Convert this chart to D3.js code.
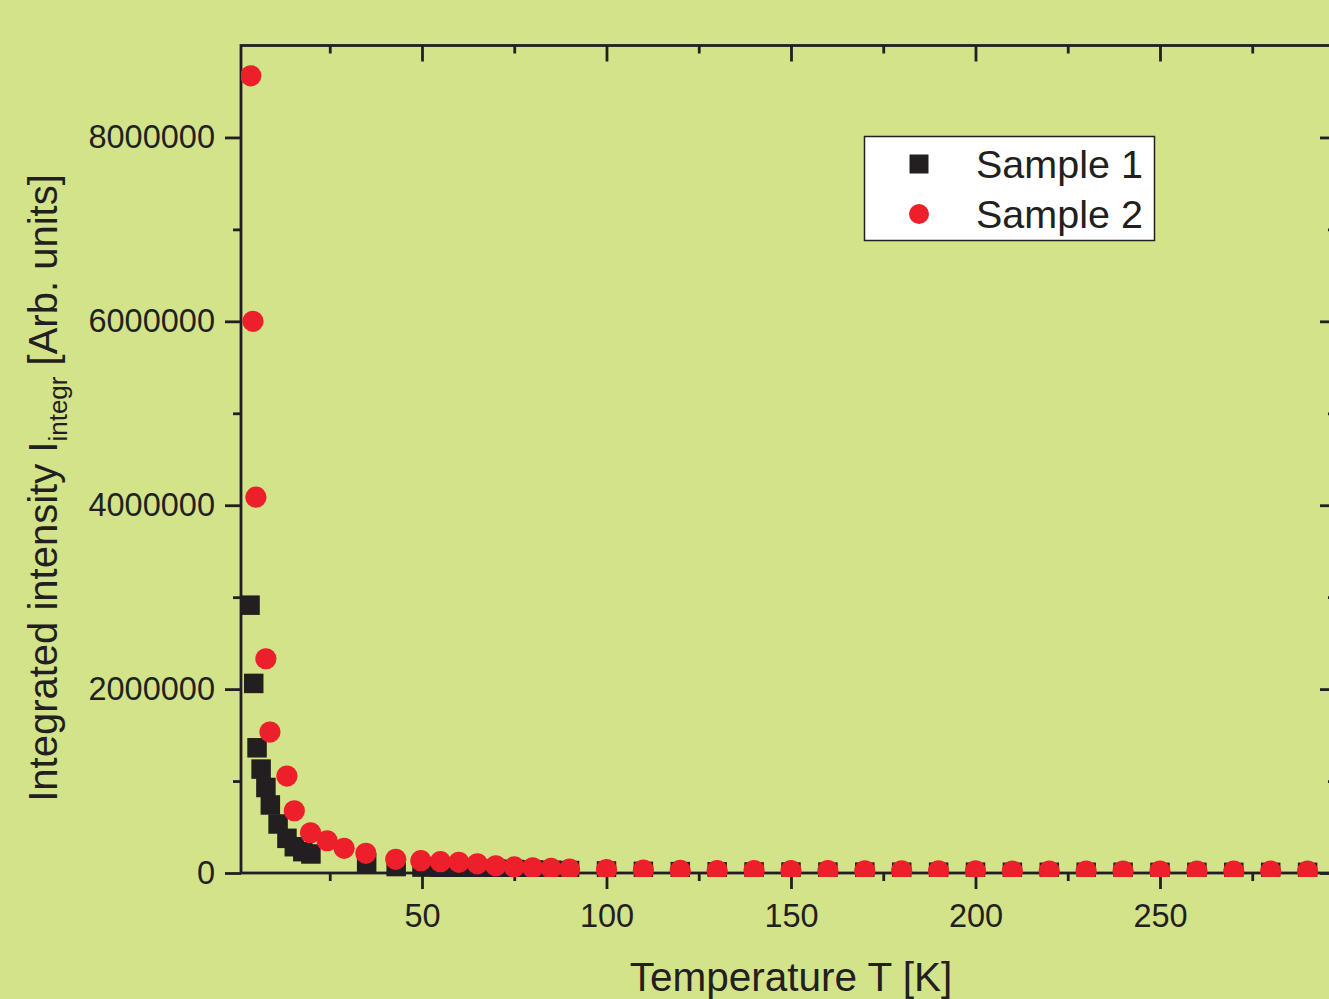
<!DOCTYPE html>
<html><head><meta charset="utf-8">
<script src="https://cdn.jsdelivr.net/npm/d3@7"></script>
<style>
html,body{margin:0;padding:0;background:#d3e38a;}
svg{display:block;font-family:"Liberation Sans",Arial,sans-serif;}
</style></head>
<body><svg id="c" width="1329" height="999"></svg>
<script>
// ---- data ----
const sample1T = [3.4, 4.4, 5.3, 6.4, 7.7, 8.9, 11, 13.4, 15.4, 17.7, 19.9, 35, 43, 50, 55, 60, 65, 70, 75, 80, 85, 90,
  100, 110, 120, 130, 140, 150, 160, 170, 180, 190, 200, 210, 220, 230, 240, 250, 260, 270, 280, 290];
const sample1V = [2913000, 2062000, 1362000, 1130000, 930000, 740000, 533000, 377000, 286000, 232000, 207000, 105000, 70000, 64000, 58000, 52000, 47000, 42000, 38000, 34000, 30000, 27000,
  22000, 18000, 15000, 13000, 12000, 11000, 10000, 10000, 9000, 9000, 9000, 8000, 8000, 8000, 8000, 7000, 7000, 7000, 7000, 7000];
const sample2T = [3.6, 4.2, 5.0, 7.7, 8.8, 13.4, 15.4, 19.8, 24.3, 28.9, 34.8, 42.9, 49.7, 55, 60, 65, 70, 75, 80, 85, 90,
  100, 110, 120, 130, 140, 150, 160, 170, 180, 190, 200, 210, 220, 230, 240, 250, 260, 270, 280, 290];
const sample2V = [8670000, 6000000, 4087000, 2330000, 1533000, 1054000, 677000, 438000, 351000, 268000, 214000, 149000, 134000, 123000, 116000, 100000, 78000, 66000, 57000, 50000, 42000,
  36000, 32000, 28000, 27000, 26000, 25000, 25000, 24000, 24000, 23000, 23000, 22000, 22000, 22000, 21000, 21000, 21000, 20000, 20000, 20000];
const xMajorTicks = [50, 100, 150, 200, 250];
const xMinorTicks = [25, 75, 125, 175, 225, 275];
const yMajorTicks = [0, 2000000, 4000000, 6000000, 8000000];
const yMinorTicks = [1000000, 3000000, 5000000, 7000000];
const seriesNames = ["Sample 1", "Sample 2"];
const xDomain = [0.95, 297.7];
const yDomain = [0, 9000000];

// ---- layout ----
const L = 241, R = 1336, T = 45.5, B = 873;
const svg = d3.select("#c");
const x = d3.scaleLinear().domain(xDomain).range([L, R]);
const y = d3.scaleLinear().domain(yDomain).range([B, T]);
const ink = "#231f20", red = "#ed1f2a";

function styleAxis(g){
  g.selectAll(".domain").remove();
  g.selectAll(".tick line").attr("stroke", ink).attr("stroke-width", 2.8);
  g.selectAll(".tick text").attr("fill", ink).style("font-size", "32.5px").style("font-family", "Liberation Sans, Arial, sans-serif");
}
// bottom
svg.append("g").attr("transform", `translate(0,${B})`)
  .call(d3.axisBottom(x).tickValues(xMajorTicks).tickSize(16).tickPadding(15).tickFormat(d3.format("d")))
  .call(styleAxis).call(g=>g.selectAll("text").attr("dy","0.72em"));
svg.append("g").attr("transform", `translate(0,${B})`)
  .call(d3.axisBottom(x).tickValues(xMinorTicks).tickSize(8).tickFormat(""))
  .call(styleAxis);
// top (inward)
svg.append("g").attr("transform", `translate(0,${T})`)
  .call(d3.axisBottom(x).tickValues(xMajorTicks).tickSize(16).tickFormat(""))
  .call(styleAxis);
svg.append("g").attr("transform", `translate(0,${T})`)
  .call(d3.axisBottom(x).tickValues(xMinorTicks).tickSize(8).tickFormat(""))
  .call(styleAxis);
// left
svg.append("g").attr("transform", `translate(${L},0)`)
  .call(d3.axisLeft(y).tickValues(yMajorTicks).tickSize(16).tickPadding(10).tickFormat(d3.format("d")))
  .call(styleAxis);
svg.append("g").attr("transform", `translate(${L},0)`)
  .call(d3.axisLeft(y).tickValues(yMinorTicks).tickSize(8).tickFormat(""))
  .call(styleAxis);
// right (inward)
svg.append("g").attr("transform", `translate(${R},0)`)
  .call(d3.axisLeft(y).tickValues(yMajorTicks).tickSize(16).tickFormat(""))
  .call(styleAxis);
svg.append("g").attr("transform", `translate(${R},0)`)
  .call(d3.axisLeft(y).tickValues(yMinorTicks).tickSize(8).tickFormat(""))
  .call(styleAxis);
// frame
svg.append("rect").attr("x", L).attr("y", T).attr("width", R-L).attr("height", B-T)
  .attr("fill", "none").attr("stroke", ink).attr("stroke-width", 2.8);

// clip
svg.append("clipPath").attr("id","clip").append("rect")
  .attr("x", L).attr("y", T - 20).attr("width", R-L).attr("height", B - T + 24);

const plot = svg.append("g").attr("clip-path", "url(#clip)");
const sq = 19.5, rad = 10.6;
const d1 = sample1T.map((t,i)=>({t, v: sample1V[i]}));
const d2 = sample2T.map((t,i)=>({t, v: sample2V[i]}));
plot.selectAll("rect.s1").data(d1).join("rect").attr("class","s1")
  .attr("x", d=>x(d.t)-sq/2).attr("y", d=>y(d.v)-sq/2).attr("width", sq).attr("height", sq).attr("fill", ink);
plot.selectAll("circle.s2").data(d2).join("circle").attr("class","s2")
  .attr("cx", d=>x(d.t)).attr("cy", d=>y(d.v)).attr("r", rad).attr("fill", red);

// axis titles
svg.append("text").attr("x", 791).attr("y", 991).attr("text-anchor","middle")
  .attr("fill", ink).style("font-size","40.5px").text("Temperature T [K]");
const yt = svg.append("text").attr("transform","translate(57,488) rotate(-90)").attr("text-anchor","middle")
  .attr("fill", ink).style("font-size","40px");
yt.append("tspan").text("Integrated intensity I");
yt.append("tspan").attr("dy", 10).style("font-size","26px").text("integr");
yt.append("tspan").attr("dy", -10).text(" [Arb. units]");

// legend
const lg = svg.append("g");
lg.append("rect").attr("x", 864.5).attr("y", 136.5).attr("width", 290).attr("height", 104)
  .attr("fill", "#ffffff").attr("stroke", ink).attr("stroke-width", 1.5);
lg.append("rect").attr("x", 919-9.5).attr("y", 164-9.5).attr("width", 19).attr("height", 19).attr("fill", ink);
lg.append("circle").attr("cx", 919).attr("cy", 214).attr("r", 10).attr("fill", red);
lg.selectAll("text.lt").data(seriesNames).join("text").attr("class","lt")
  .attr("x", 976).attr("y", (d,i)=>178 + i*50).attr("fill", ink).style("font-size","39.5px").text(d=>d);
</script></body></html>
